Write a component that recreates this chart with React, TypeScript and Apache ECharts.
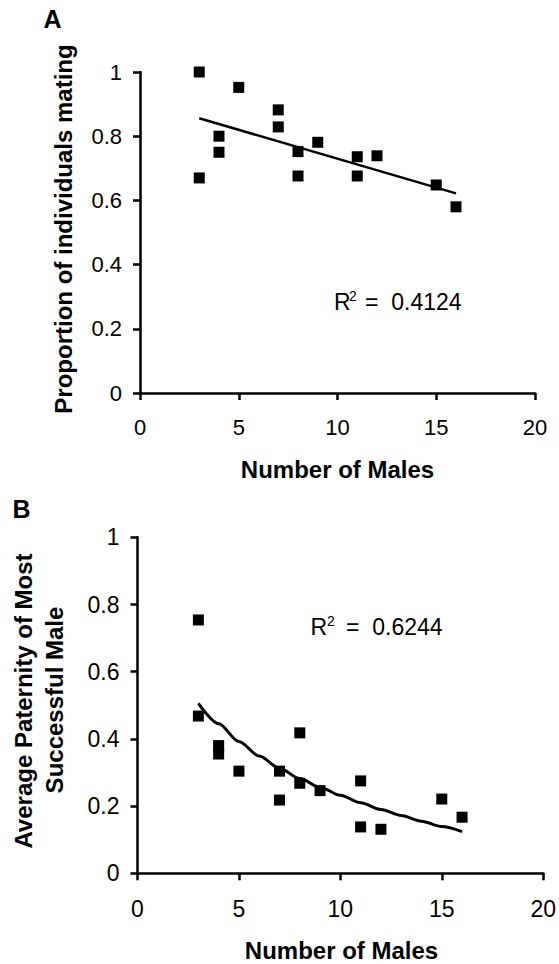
import React, { useEffect, useRef } from "react";
import * as echarts from "echarts";

const xTicks = [0, 5, 10, 15, 20];
const yTicks = [0, 0.2, 0.4, 0.6, 0.8, 1];

const malesA = [3, 3, 4, 4, 5, 7, 7, 8, 8, 9, 11, 11, 12, 15, 16];
const matingA = [1.0, 0.67, 0.8, 0.75, 0.952, 0.882, 0.829, 0.752, 0.676, 0.781, 0.736, 0.676, 0.739, 0.648, 0.58];
const trendXA = [3, 16];
const trendYA = [0.856, 0.622];
const r2A = "0.4124";

const malesB = [3, 3, 4, 4, 5, 7, 7, 8, 8, 9, 11, 11, 12, 15, 16];
const paternityB = [0.754, 0.468, 0.38, 0.355, 0.304, 0.304, 0.218, 0.418, 0.268, 0.246, 0.275, 0.138, 0.131, 0.221, 0.167];
const trendXB = [3, 4, 5, 6, 7, 8, 9, 10, 11, 12, 13, 14, 15, 16];
const trendYB = [0.506, 0.445, 0.392, 0.349, 0.313, 0.282, 0.256, 0.232, 0.21, 0.19, 0.172, 0.155, 0.139, 0.124];
const r2B = "0.6244";

const FONT = "'Liberation Sans', Arial, sans-serif";

function pairs(xs: number[], ys: number[]) {
  return xs.map((x, i) => [x, ys[i]]);
}

function xAxisCfg(gridIndex: number, fontSize: number, margin: number) {
  return {
    type: "value",
    gridIndex,
    min: xTicks[0],
    max: xTicks[xTicks.length - 1],
    interval: xTicks[1] - xTicks[0],
    axisLine: { show: true, onZero: false, lineStyle: { color: "#000", width: 2.5 } },
    axisTick: { show: true, inside: false, length: 7, lineStyle: { color: "#000", width: 2.5 } },
    splitLine: { show: false },
    axisLabel: { color: "#000", fontFamily: FONT, fontSize, margin },
  };
}

function yAxisCfg(gridIndex: number, fontSize: number, margin: number) {
  return {
    type: "value",
    gridIndex,
    min: yTicks[0],
    max: yTicks[yTicks.length - 1],
    interval: yTicks[1] - yTicks[0],
    axisLine: { show: true, onZero: false, lineStyle: { color: "#000", width: 2.5 } },
    axisTick: { show: true, inside: false, length: 7, lineStyle: { color: "#000", width: 2.5 } },
    splitLine: { show: false },
    axisLabel: { color: "#000", fontFamily: FONT, fontSize, margin },
  };
}

function txt(text: string, x: number, y: number, fontSize: number, opts: any = {}) {
  return {
    type: "text",
    x,
    y,
    rotation: opts.rotation || 0,
    style: {
      text,
      fill: "#000",
      fontFamily: FONT,
      fontSize,
      fontWeight: opts.bold ? "bold" : "normal",
      align: opts.align || "center",
      verticalAlign: opts.vAlign || "middle",
    },
  };
}

export default function App() {
  const ref = useRef<HTMLDivElement>(null);
  useEffect(() => {
    if (!ref.current) return;
    const chart = echarts.init(ref.current, undefined, { renderer: "svg" });
    chart.setOption({
      animation: false,
      backgroundColor: "#fff",
      grid: [
        { left: 140, top: 72, width: 395, height: 321 },
        { left: 137.5, top: 537.3, width: 408.2, height: 336 },
      ],
      xAxis: [xAxisCfg(0, 22, 23), xAxisCfg(1, 23, 24)],
      yAxis: [yAxisCfg(0, 22, 18), yAxisCfg(1, 23, 18)],
      series: [
        {
          type: "line",
          xAxisIndex: 0,
          yAxisIndex: 0,
          data: pairs(trendXA, trendYA),
          showSymbol: false,
          lineStyle: { color: "#000", width: 2.5 },
        },
        {
          type: "scatter",
          xAxisIndex: 0,
          yAxisIndex: 0,
          data: pairs(malesA, matingA),
          symbol: "rect",
          symbolSize: 11,
          itemStyle: { color: "#000", opacity: 1 },
        },
        {
          type: "line",
          xAxisIndex: 1,
          yAxisIndex: 1,
          data: pairs(trendXB, trendYB),
          showSymbol: false,
          smooth: 0.3,
          smoothMonotone: "x",
          lineStyle: { color: "#000", width: 3 },
        },
        {
          type: "scatter",
          xAxisIndex: 1,
          yAxisIndex: 1,
          data: pairs(malesB, paternityB),
          symbol: "rect",
          symbolSize: 11,
          itemStyle: { color: "#000", opacity: 1 },
        },
      ],
      graphic: [
        txt("A", 52.5, 19, 25, { bold: true }),
        txt("B", 21.5, 508.5, 25, { bold: true }),
        txt("Proportion of individuals mating", 63, 229, 24, { bold: true, rotation: Math.PI / 2 }),
        txt("Number of Males", 337.5, 469, 24, { bold: true }),
        txt("Average Paternity of Most", 23, 701, 24, { bold: true, rotation: Math.PI / 2 }),
        txt("Successful Male", 54, 700, 24, { bold: true, rotation: Math.PI / 2 }),
        txt("Number of Males", 341.5, 950, 24, { bold: true }),
        txt("R", 334, 302, 23, { align: "left" }),
        txt("2", 349, 296, 14, { align: "left" }),
        txt("=  " + r2A, 365, 302, 23, { align: "left" }),
        txt("R", 310.5, 627, 23, { align: "left" }),
        txt("2", 327, 621, 14, { align: "left" }),
        txt("=  " + r2B, 346, 627, 23, { align: "left" }),
      ],
    });
    return () => chart.dispose();
  }, []);
  return (
    <div
      ref={ref}
      style={{ position: "absolute", left: 0, top: 0, width: 559, height: 964, background: "#fff" }}
    />
  );
}
